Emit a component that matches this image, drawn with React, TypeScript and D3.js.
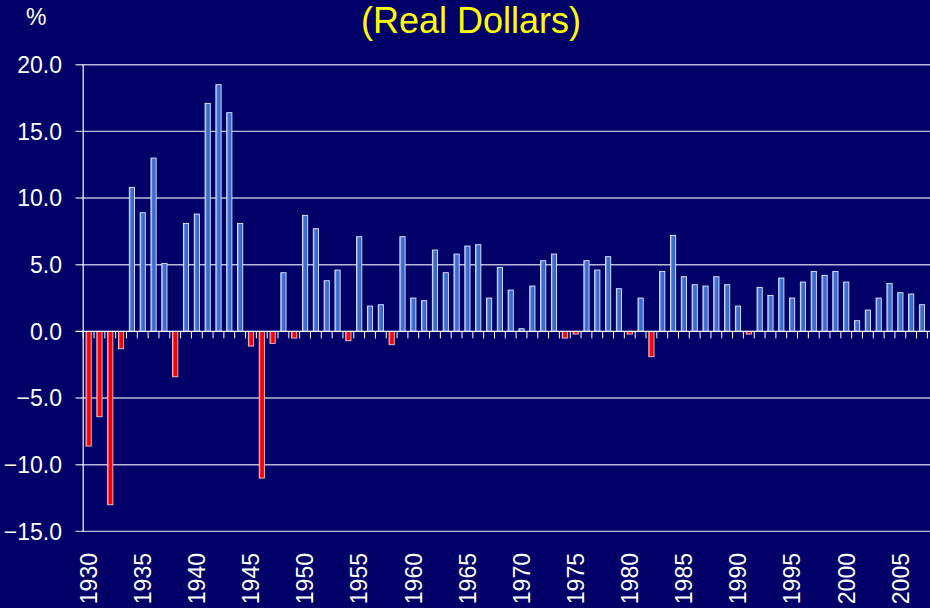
import React, { useEffect, useRef } from 'react';
import * as d3 from 'd3';

// years on the x axis (one bar each)
const years = [
  1930, 1931, 1932, 1933, 1934, 1935, 1936, 1937, 1938, 1939,
  1940, 1941, 1942, 1943, 1944, 1945, 1946, 1947, 1948, 1949,
  1950, 1951, 1952, 1953, 1954, 1955, 1956, 1957, 1958, 1959,
  1960, 1961, 1962, 1963, 1964, 1965, 1966, 1967, 1968, 1969,
  1970, 1971, 1972, 1973, 1974, 1975, 1976, 1977, 1978, 1979,
  1980, 1981, 1982, 1983, 1984, 1985, 1986, 1987, 1988, 1989,
  1990, 1991, 1992, 1993, 1994, 1995, 1996, 1997, 1998, 1999,
  2000, 2001, 2002, 2003, 2004, 2005, 2006, 2007,
];

// annual growth, % (real dollars)
const growth = [
  -8.6, -6.4, -13.0, -1.3, 10.8, 8.9, 13.0, 5.1, -3.4, 8.1,
  8.8, 17.1, 18.5, 16.4, 8.1, -1.1, -11.0, -0.9, 4.4, -0.5,
  8.7, 7.7, 3.8, 4.6, -0.7, 7.1, 1.9, 2.0, -1.0, 7.1,
  2.5, 2.3, 6.1, 4.4, 5.8, 6.4, 6.5, 2.5, 4.8, 3.1,
  0.2, 3.4, 5.3, 5.8, -0.5, -0.2, 5.3, 4.6, 5.6, 3.2,
  -0.2, 2.5, -1.9, 4.5, 7.2, 4.1, 3.5, 3.4, 4.1, 3.5,
  1.9, -0.2, 3.3, 2.7, 4.0, 2.5, 3.7, 4.5, 4.2, 4.5,
  3.7, 0.8, 1.6, 2.5, 3.6, 2.9, 2.8, 2.0,
];

const xTickLabels = ['1930', '1935', '1940', '1945', '1950', '1955', '1960', '1965',
  '1970', '1975', '1980', '1985', '1990', '1995', '2000', '2005'];
const yTicks = [-15, -10, -5, 0, 5, 10, 15, 20];
const title = '(Real Dollars)';
const unitLabel = '%';

const W = 930, H = 608;
const FONT = "'Liberation Sans', Arial, sans-serif";

const draw = (node: SVGSVGElement) => {
  const svg = d3.select(node);
  svg.selectAll('*').remove();

  const margin = { top: 64.7, right: 2.6, bottom: 76.6, left: 83.2 };
  const w = W - margin.left - margin.right;
  const h = H - margin.top - margin.bottom;

  svg.append('rect').attr('width', W).attr('height', H).attr('fill', '#000068');

  const defs = svg.append('defs');
  const blue = defs.append('linearGradient').attr('id', 'barBlue')
    .attr('x1', 0).attr('x2', 1).attr('y1', 0).attr('y2', 0);
  blue.append('stop').attr('offset', '0%').attr('stop-color', '#9db4e6');
  blue.append('stop').attr('offset', '35%').attr('stop-color', '#3f6fd2');
  blue.append('stop').attr('offset', '100%').attr('stop-color', '#2f62cc');
  const red = defs.append('linearGradient').attr('id', 'barRed')
    .attr('x1', 0).attr('x2', 1).attr('y1', 0).attr('y2', 0);
  red.append('stop').attr('offset', '0%').attr('stop-color', '#ff7070');
  red.append('stop').attr('offset', '35%').attr('stop-color', '#ff0000');
  red.append('stop').attr('offset', '100%').attr('stop-color', '#f00000');

  const g = svg.append('g').attr('transform', `translate(${margin.left},${margin.top})`);

  const x = d3.scaleBand<number>()
    .domain(years)
    .range([0, w])
    .paddingInner(0.52)
    .paddingOuter(0.26);

  const y = d3.scaleLinear().domain([-15, 20]).range([h, 0]);

  // gridlines (they run a bit left of the axis, like tick marks)
  g.append('g')
    .selectAll('line')
    .data(yTicks.filter((d) => d !== 0))
    .enter().append('line')
    .attr('x1', -7.7)
    .attr('x2', W - margin.left)
    .attr('y1', (d) => y(d))
    .attr('y2', (d) => y(d))
    .attr('stroke', '#b8b8d8')
    .attr('stroke-width', 1.4);

  // y labels
  g.append('g')
    .selectAll('text')
    .data(yTicks)
    .enter().append('text')
    .attr('x', 62 - margin.left)
    .attr('y', (d) => y(d))
    .attr('dy', '0.36em')
    .attr('text-anchor', 'end')
    .attr('fill', '#ffffff')
    .style('font-family', FONT)
    .style('font-size', '23px')
    .text((d) => d3.format('.1f')(d));

  // bars
  const data = years.map((yr, i) => ({ year: yr, value: growth[i] }));
  g.append('g')
    .selectAll('rect')
    .data(data)
    .enter().append('rect')
    .attr('x', (d) => x(d.year) as number)
    .attr('width', x.bandwidth())
    .attr('y', (d) => y(Math.max(0, d.value)))
    .attr('height', (d) => Math.abs(y(d.value) - y(0)))
    .attr('fill', (d) => (d.value < 0 ? 'url(#barRed)' : 'url(#barBlue)'))
    .attr('stroke', (d) => (d.value < 0 ? '#f4c8d4' : '#e4ecff'))
    .attr('stroke-width', 0.9);

  // left axis line
  g.append('line')
    .attr('x1', 0).attr('x2', 0)
    .attr('y1', 0).attr('y2', h)
    .attr('stroke', '#ffffff')
    .attr('stroke-width', 1.2);

  // zero line
  g.append('line')
    .attr('x1', -7.7).attr('x2', W - margin.left)
    .attr('y1', y(0)).attr('y2', y(0))
    .attr('stroke', '#ffffff')
    .attr('stroke-width', 1.4);

  // category tick marks hanging under the zero line
  const step = x.step();
  const bounds = d3.range(years.length + 1).map((i) => i * step);
  g.append('g')
    .selectAll('line')
    .data(bounds)
    .enter().append('line')
    .attr('x1', (d) => d).attr('x2', (d) => d)
    .attr('y1', y(0)).attr('y2', y(0) + 7)
    .attr('stroke', '#ffffff')
    .attr('stroke-width', 1);

  // x labels (rotated)
  g.append('g')
    .selectAll('text')
    .data(xTickLabels)
    .enter().append('text')
    .attr('transform', (d) => {
      const cx = (x(+d) as number) + x.bandwidth() / 2;
      return `translate(${cx},${553 - margin.top}) rotate(-90)`;
    })
    .attr('dy', '0.36em')
    .attr('text-anchor', 'end')
    .attr('fill', '#ffffff')
    .style('font-family', FONT)
    .style('font-size', '23px')
    .text((d) => d);

  // title and unit
  svg.append('text')
    .attr('x', 471).attr('y', 33)
    .attr('text-anchor', 'middle')
    .attr('fill', '#ffff00')
    .style('font-family', FONT)
    .style('font-size', '36px')
    .text(title);

  svg.append('text')
    .attr('x', 26).attr('y', 25)
    .attr('fill', '#ffffff')
    .style('font-family', FONT)
    .style('font-size', '23px')
    .text(unitLabel);
};

const App = () => {
  const ref = useRef<SVGSVGElement>(null);

  useEffect(() => {
    if (ref.current) draw(ref.current);
  }, []);

  return (
    <svg
      ref={ref}
      width={W}
      height={H}
      style={{ position: 'absolute', left: 0, top: 0, display: 'block' }}
    />
  );
};

export default App;
